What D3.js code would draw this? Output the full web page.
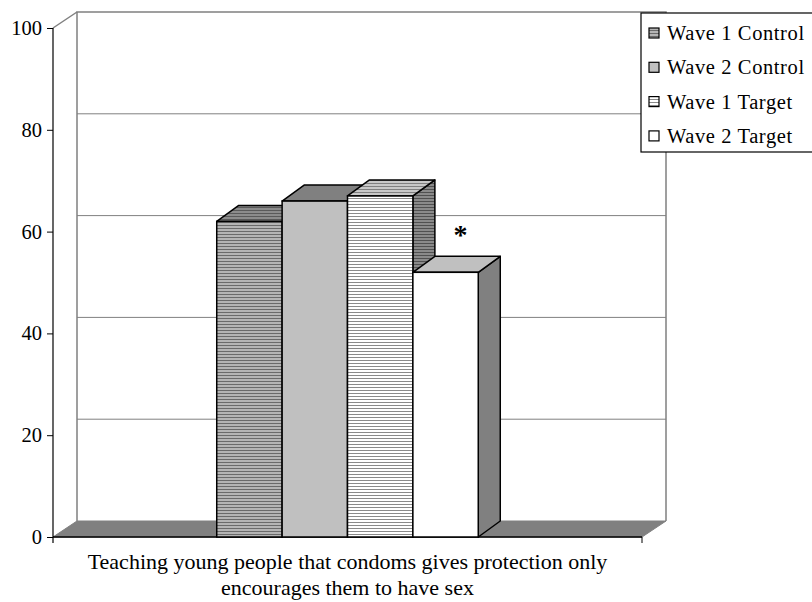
<!DOCTYPE html>
<html>
<head>
<meta charset="utf-8">
<script src="https://cdn.jsdelivr.net/npm/d3@7/dist/d3.min.js"></script>
<style>
  html, body { margin: 0; padding: 0; background: #fff; }
  svg { display: block; }
  text { font-family: "Liberation Serif", "Times New Roman", serif; fill: #000; }
</style>
</head>
<body>
<svg id="chart" width="812" height="602"></svg>
<script>
// Chart data
const categories = ["Teaching young people that condoms gives protection only encourages them to have sex"];
const categoryLines = ["Teaching young people that condoms gives protection only", "encourages them to have sex"];
const series = ["Wave 1 Control", "Wave 2 Control", "Wave 1 Target", "Wave 2 Target"];
const values = [62, 66, 67, 52];
const significant = [false, false, false, true];
const yTicks = [0, 20, 40, 60, 80, 100];

const svg = d3.select("#chart");
const defs = svg.append("defs");

// Oblique 3-D offsets (right / up)
const wallDepth = { dx: 24, dy: -16 };
const barDepth = { dx: 22, dy: -16 };

const y = d3.scaleLinear().domain([0, 100]).range([537, 28]);
const x = d3.scaleBand().domain(categories).range([53, 642]);
const clusterFrac = 0.444;

// Hatch patterns: horizontal lines on a base colour
function hatch(id, base, line, period) {
  const p = defs.append("pattern").attr("id", id)
    .attr("patternUnits", "userSpaceOnUse").attr("width", 6).attr("height", period);
  p.append("rect").attr("width", 6).attr("height", period).attr("fill", base);
  p.append("rect").attr("y", 0).attr("width", 6).attr("height", 1).attr("fill", line);
}
hatch("h1front", "#b4b4b4", "#6a6a6a", 3);
hatch("h1top", "#8c8c8c", "#5a5a5a", 3);
hatch("h3front", "#ffffff", "#8a8a8a", 3);
hatch("h3top", "#c8c8c8", "#808080", 3);
hatch("h3side", "#8a8a8a", "#505050", 3);

const styles = [
  { front: "url(#h1front)", top: "url(#h1top)", side: "url(#h1top)", swatch: "url(#h1front)" },
  { front: "#c0c0c0", top: "#808080", side: "#808080", swatch: "#c0c0c0" },
  { front: "url(#h3front)", top: "url(#h3top)", side: "url(#h3side)", swatch: "url(#h3front)" },
  { front: "#ffffff", top: "#c0c0c0", side: "#808080", swatch: "#ffffff" }
];

const x0 = x.range()[0], x1 = x.range()[1];
const yBase = y(0), yTop = y(100);

// Back wall and side wall edges
const wall = svg.append("g");
wall.append("path")
  .attr("d", `M${x0 + wallDepth.dx},${yBase + wallDepth.dy} V${yTop + wallDepth.dy} H${x1 + wallDepth.dx} V${yBase + wallDepth.dy}`)
  .attr("fill", "none").attr("stroke", "#808080").attr("stroke-width", 1.5);
wall.append("line")
  .attr("x1", x0).attr("y1", yTop).attr("x2", x0 + wallDepth.dx).attr("y2", yTop + wallDepth.dy)
  .attr("stroke", "#808080").attr("stroke-width", 1.5);

// Gridlines on the back wall
wall.selectAll("line.grid").data(yTicks.filter(t => t > 0 && t < 100)).join("line")
  .attr("class", "grid")
  .attr("x1", x0 + wallDepth.dx).attr("x2", x1 + wallDepth.dx)
  .attr("y1", d => y(d) + wallDepth.dy).attr("y2", d => y(d) + wallDepth.dy)
  .attr("stroke", "#808080").attr("stroke-width", 1);

// Floor
svg.append("path")
  .attr("d", `M${x0},${yBase} L${x1},${yBase} L${x1 + wallDepth.dx},${yBase + wallDepth.dy} L${x0 + wallDepth.dx},${yBase + wallDepth.dy} Z`)
  .attr("fill", "#808080").attr("stroke", "#808080").attr("stroke-width", 1);
svg.append("line")
  .attr("x1", x0).attr("x2", x1).attr("y1", yBase).attr("y2", yBase)
  .attr("stroke", "#000").attr("stroke-width", 1.5);

// Bars
const cat = categories[0];
const cx = x(cat) + x.bandwidth() / 2;
const cw = x.bandwidth() * clusterFrac;
const xs = d3.scaleBand().domain(series).range([cx - cw / 2, cx + cw / 2]);

const bars = svg.append("g");
series.forEach((s, i) => {
  const bx = xs(s), bw = xs.bandwidth(), by = y(values[i]);
  const g = bars.append("g");
  const st = styles[i];
  const dx = barDepth.dx, dy = barDepth.dy;
  // side face
  g.append("path")
    .attr("d", `M${bx + bw},${by} L${bx + bw + dx},${by + dy} L${bx + bw + dx},${yBase + dy} L${bx + bw},${yBase} Z`)
    .attr("fill", st.side).attr("stroke", "#000").attr("stroke-width", 1.5).attr("stroke-linejoin", "round");
  // top face
  g.append("path")
    .attr("d", `M${bx},${by} L${bx + dx},${by + dy} L${bx + bw + dx},${by + dy} L${bx + bw},${by} Z`)
    .attr("fill", st.top).attr("stroke", "#000").attr("stroke-width", 1.5).attr("stroke-linejoin", "round");
  // front face
  g.append("rect")
    .attr("x", bx).attr("y", by).attr("width", bw).attr("height", yBase - by)
    .attr("fill", st.front).attr("stroke", "#000").attr("stroke-width", 1.5);
  if (significant[i]) {
    svg.append("text")
      .attr("x", bx + bw / 2 + dx / 2 + 4).attr("y", by + dy - 12)
      .attr("text-anchor", "middle").attr("font-size", 28).attr("font-weight", "bold")
      .text("*");
  }
});

// Value axis
const yAxis = d3.axisLeft(y).tickValues(yTicks).tickSize(6).tickSizeOuter(0).tickPadding(5);
const ya = svg.append("g").attr("transform", `translate(${x0},0)`).call(yAxis);
ya.select(".domain").remove();
ya.selectAll(".tick line").attr("stroke", "#000");
ya.selectAll(".tick text").attr("font-size", 20.5).attr("font-family", "Liberation Serif");
svg.append("line").attr("x1", x0).attr("x2", x0).attr("y1", yTop).attr("y2", yBase + 6)
  .attr("stroke", "#000").attr("stroke-width", 1.2);
// Category axis end tick
svg.append("line").attr("x1", x1).attr("x2", x1).attr("y1", yBase).attr("y2", yBase + 6)
  .attr("stroke", "#000").attr("stroke-width", 1);

// Category label
const cl = svg.append("text").attr("text-anchor", "middle").attr("font-size", 22);
categoryLines.forEach((t, i) => {
  cl.append("tspan").attr("x", cx).attr("y", 569 + i * 26).text(t);
});

// Legend
const legend = svg.append("g");
legend.append("rect").attr("x", 641).attr("y", 13).attr("width", 180).attr("height", 139)
  .attr("fill", "#fff").attr("stroke", "#000").attr("stroke-width", 1.2);
series.forEach((s, i) => {
  const ry = 33 + i * 34.3;
  legend.append("rect").attr("x", 649).attr("y", ry - 5).attr("width", 10).attr("height", 10)
    .attr("fill", styles[i].swatch).attr("stroke", "#000").attr("stroke-width", 1.2);
  legend.append("text").attr("x", 667).attr("y", ry + 7).attr("font-size", 20.5)
    .attr("letter-spacing", 0.6).text(s);
});
</script>
</body>
</html>
